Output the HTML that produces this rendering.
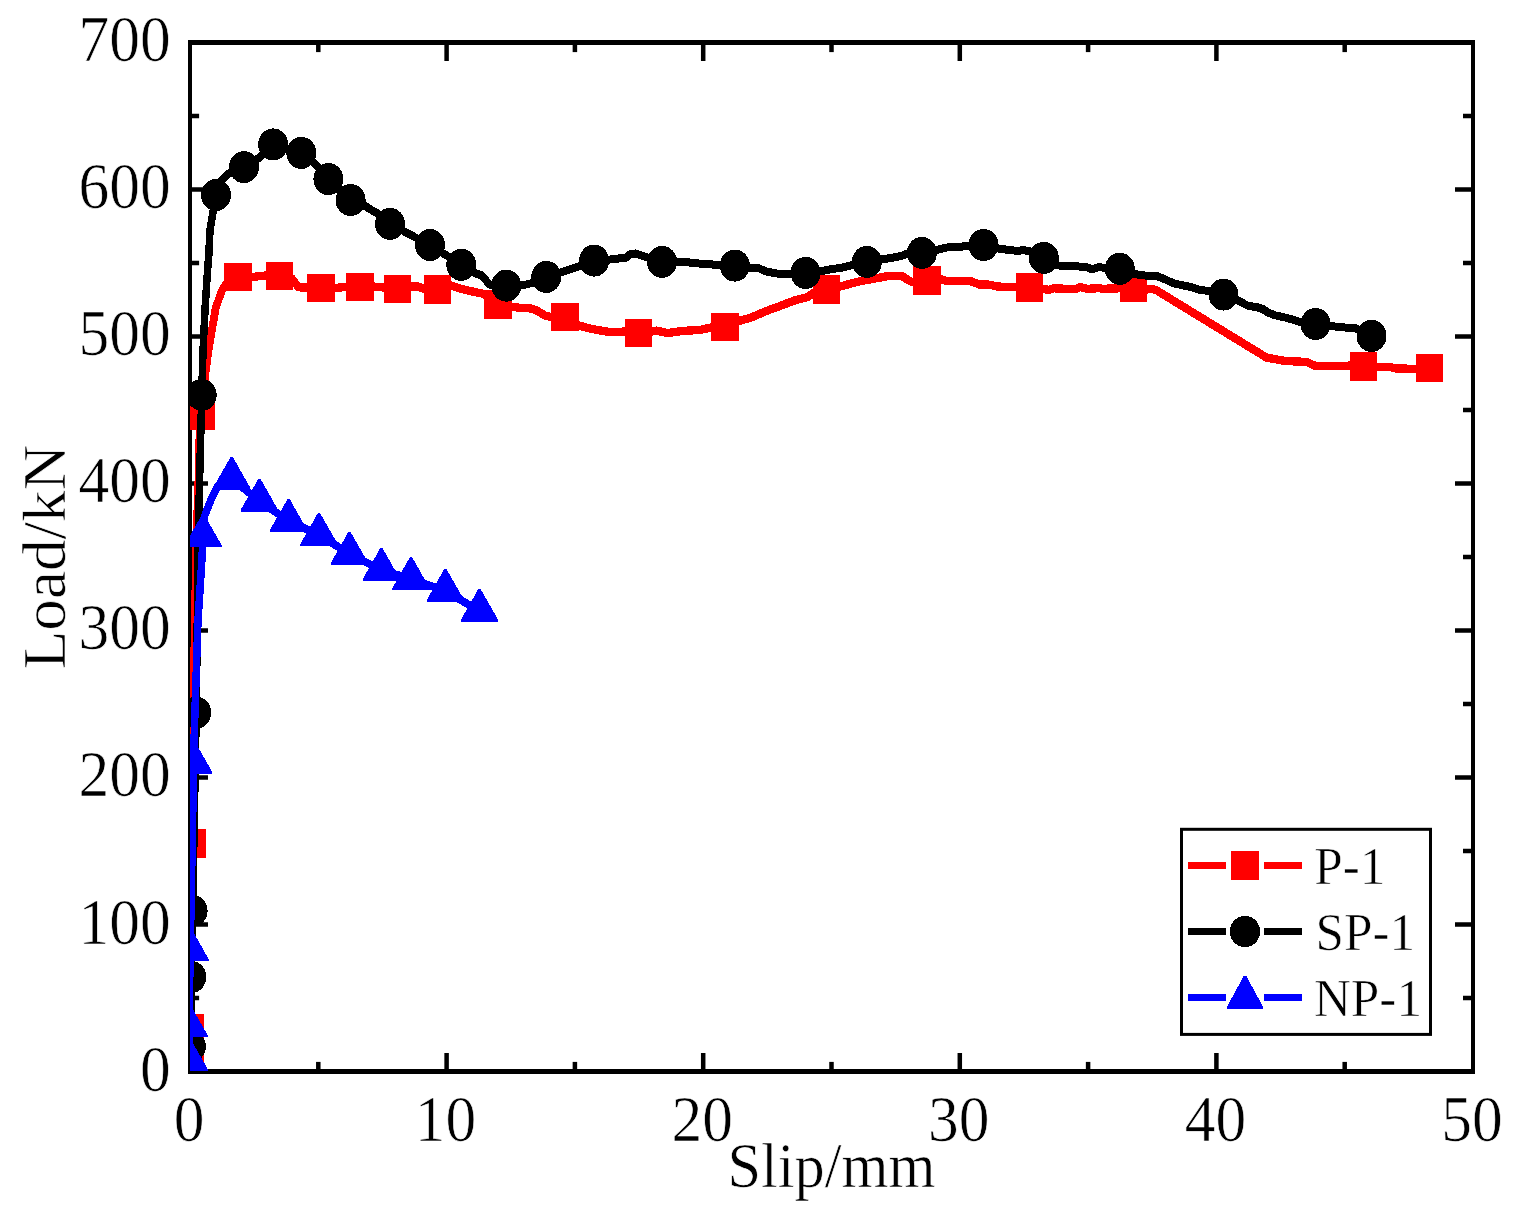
<!DOCTYPE html>
<html lang="en"><head><meta charset="utf-8"><title>Load-Slip curves</title>
<style>
html,body{margin:0;padding:0;background:#fff;}
body{width:1519px;height:1217px;overflow:hidden;}
svg{display:block;}
text{font-family:"Liberation Serif","DejaVu Serif",serif;fill:#000;stroke:#fff;stroke-width:0.6px;paint-order:fill stroke;}
.tk{font-size:61.5px;}
.lb{font-size:60.4px;}
.lg{font-size:51.2px;}
</style></head><body>
<svg width="1519" height="1217" viewBox="0 0 1519 1217" role="img" aria-label="Load-slip curves for specimens P-1, SP-1 and NP-1">
<defs><clipPath id="plot"><rect x="190" y="42.5" width="1283" height="1029.5"/></clipPath></defs>
<rect x="0" y="0" width="1519" height="1217" fill="#fff"/>
<g fill="#000">
<rect x="188" y="40" width="4" height="1034"/>
<rect x="1471" y="40" width="4" height="1034"/>
<rect x="188" y="40" width="1287" height="5"/>
<rect x="188" y="1069" width="1287" height="5"/>
<rect x="316.05" y="1061.9" width="4.5" height="8.1"/>
<rect x="316.05" y="44" width="4.5" height="8.1"/>
<rect x="444.35" y="1053" width="4.5" height="17"/>
<rect x="444.35" y="44" width="4.5" height="17"/>
<rect x="572.65" y="1061.9" width="4.5" height="8.1"/>
<rect x="572.65" y="44" width="4.5" height="8.1"/>
<rect x="700.95" y="1053" width="4.5" height="17"/>
<rect x="700.95" y="44" width="4.5" height="17"/>
<rect x="829.25" y="1061.9" width="4.5" height="8.1"/>
<rect x="829.25" y="44" width="4.5" height="8.1"/>
<rect x="957.55" y="1053" width="4.5" height="17"/>
<rect x="957.55" y="44" width="4.5" height="17"/>
<rect x="1085.85" y="1061.9" width="4.5" height="8.1"/>
<rect x="1085.85" y="44" width="4.5" height="8.1"/>
<rect x="1214.15" y="1053" width="4.5" height="17"/>
<rect x="1214.15" y="44" width="4.5" height="17"/>
<rect x="1342.45" y="1061.9" width="4.5" height="8.1"/>
<rect x="1342.45" y="44" width="4.5" height="8.1"/>
<rect x="191" y="995.75" width="8.1" height="4.5"/>
<rect x="1463" y="995.75" width="9" height="4.5"/>
<rect x="191" y="922.25" width="17" height="4.5"/>
<rect x="1455" y="922.25" width="17" height="4.5"/>
<rect x="191" y="848.75" width="8.1" height="4.5"/>
<rect x="1463" y="848.75" width="9" height="4.5"/>
<rect x="191" y="775.25" width="17" height="4.5"/>
<rect x="1455" y="775.25" width="17" height="4.5"/>
<rect x="191" y="701.75" width="8.1" height="4.5"/>
<rect x="1463" y="701.75" width="9" height="4.5"/>
<rect x="191" y="628.25" width="17" height="4.5"/>
<rect x="1455" y="628.25" width="17" height="4.5"/>
<rect x="191" y="554.75" width="8.1" height="4.5"/>
<rect x="1463" y="554.75" width="9" height="4.5"/>
<rect x="191" y="481.25" width="17" height="4.5"/>
<rect x="1455" y="481.25" width="17" height="4.5"/>
<rect x="191" y="407.75" width="8.1" height="4.5"/>
<rect x="1463" y="407.75" width="9" height="4.5"/>
<rect x="191" y="334.25" width="17" height="4.5"/>
<rect x="1455" y="334.25" width="17" height="4.5"/>
<rect x="191" y="260.75" width="8.1" height="4.5"/>
<rect x="1463" y="260.75" width="9" height="4.5"/>
<rect x="191" y="187.25" width="17" height="4.5"/>
<rect x="1455" y="187.25" width="17" height="4.5"/>
<rect x="191" y="113.75" width="8.1" height="4.5"/>
<rect x="1463" y="113.75" width="9" height="4.5"/>
</g>
<g clip-path="url(#plot)" shape-rendering="crispEdges"><g transform="scale(1,1.0667)">
<g fill="#ff0000" stroke="none">
<polyline fill="none" stroke="#ff0000" stroke-width="7.8" stroke-linejoin="round" points="190,1004.03 190,990.91 190.5,963.72 192.1,790.66 194.5,599.98 196.3,508.11 198.8,440.61 199.5,407.8 201,389.52 205.6,348.74 208.4,329.05 212,308.99 215.7,288.74 221.7,272.8 228,263.43 237.9,259.68 252,259.68 266,258.27 279.4,258.74 288,259.02 292,261.09 298.5,269.34 306.8,269.62 320.8,269.8 335,269.99 346,269.05 359.9,269.05 374,268.68 384,269.52 397.4,270.84 411,268.59 418,268.59 424,270.93 437.4,271.3 450.9,267.74 461,270.74 473,273.37 484,275.62 498,285.55 511.9,287.71 520,288.55 531.3,289.21 537.5,291.46 545,295.87 551,297.08 565.1,297.18 579,305.24 591.3,308.24 605,310.58 612.5,311.52 625,310.77 638.4,311.99 651.9,310.77 656.3,309.93 668.1,312.27 675,311.15 687.5,309.93 700,309.37 711,307.02 724.9,306.46 739,300.83 750.6,297.93 766.3,291.55 780,286.87 795,281.52 807.5,278.52 813.1,274.77 826.6,271.3 840,268.59 849.4,266.24 861.3,263.43 873.8,261.37 888.1,258.74 901.9,258.74 908.1,262.49 912.9,264.65 927.1,263.05 941,261.84 946.3,263.24 957.5,263.52 970,263.34 979.4,266.8 987.5,266.62 997.5,268.59 1016,269.34 1029.4,269.43 1042.9,270.74 1048.8,271.87 1053.8,270.27 1066.3,270.74 1076.3,270.93 1080,269.05 1087.5,270.74 1099.9,270.09 1102.5,270.74 1120,270.27 1133.4,269.71 1146.9,271.3 1152.5,271.02 1156,271.87 1266.9,335.43 1275,336.65 1285,338.43 1306.3,339.27 1316.3,343.4 1328.8,343.4 1350,342.74 1363.4,343.49 1376.9,343.96 1390,343.96 1396.3,345.46 1415.9,345.74 1429.4,344.9"/>
<rect x="176.2" y="977.64" width="27.6" height="26.53"/>
<rect x="176.7" y="950.45" width="27.6" height="26.53"/>
<rect x="178.3" y="777.4" width="27.6" height="26.53"/>
<rect x="187.2" y="376.25" width="27.6" height="26.53"/>
<rect x="224.1" y="246.41" width="27.6" height="26.53"/>
<rect x="265.6" y="245.48" width="27.6" height="26.53"/>
<rect x="307" y="256.54" width="27.6" height="26.53"/>
<rect x="346.1" y="255.79" width="27.6" height="26.53"/>
<rect x="383.6" y="257.57" width="27.6" height="26.53"/>
<rect x="423.6" y="258.04" width="27.6" height="26.53"/>
<rect x="484.2" y="272.29" width="27.6" height="26.53"/>
<rect x="551.3" y="283.91" width="27.6" height="26.53"/>
<rect x="624.6" y="298.73" width="27.6" height="26.53"/>
<rect x="711.1" y="293.19" width="27.6" height="26.53"/>
<rect x="812.8" y="258.04" width="27.6" height="26.53"/>
<rect x="913.3" y="249.79" width="27.6" height="26.53"/>
<rect x="1015.6" y="256.16" width="27.6" height="26.53"/>
<rect x="1119.6" y="256.45" width="27.6" height="26.53"/>
<rect x="1349.6" y="330.22" width="27.6" height="26.53"/>
<rect x="1415.6" y="331.63" width="27.6" height="26.53"/>
</g>
<g fill="#000" stroke="none">
<polyline fill="none" stroke="#000" stroke-width="7.5" stroke-linejoin="round" points="190,1004.03 190.8,981.06 191.3,915.91 192.6,853.85 196.2,668.04 198.3,503.89 200.1,429.83 201,399.08 201.7,370.21 203,329.05 205.1,288.93 206.9,262.49 207.8,250.77 208.8,239.06 209.4,227.34 210,215.62 212.1,203.9 216,182.81 220.5,170.62 226,164.53 233,160.31 244,156.65 252,152.34 259.5,147.65 266,141.09 273.1,135.37 301.3,143.34 309,149.06 316.5,154.68 328.4,167.9 350.6,187.49 362,191.06 370.6,196.49 378,200.24 384,204.65 390,209.81 410,219.93 430,229.68 461.3,248.24 476,256.4 482,258.27 489,266.24 495,268.59 506.3,267.74 526,266.71 534,264.84 546.3,259.59 560.6,255.46 575,251.05 594.1,244.3 611.3,243.18 616.3,242.62 626.3,241.49 630.6,238.12 635.6,237.56 643.8,240.27 648.8,241.96 662.1,245.52 676.9,245.52 687.5,245.9 700,247.12 718.1,248.34 734.8,248.99 749.4,251.15 758.1,251.15 766.3,254.52 777.5,256.49 791.3,256.68 805.6,255.84 820,254.34 830,252.55 842.5,250.77 852.5,248.43 866.9,245.52 881.5,243.18 892.5,241.68 902.5,239.62 907.5,237.65 921.9,237.09 936.5,234.37 945,232.31 953.8,231.18 961.9,231.18 968.8,230.15 983.5,229.68 998.1,232.96 1009.4,234.37 1018.1,235.31 1023.1,234.37 1029.4,235.59 1043.8,241.77 1057.5,248.8 1070,249.74 1078.1,249.74 1087.5,250.77 1091.9,252.55 1098.8,250.21 1105,251.34 1119.8,251.99 1133.8,256.68 1142.5,258.18 1156.9,258.74 1163.8,261.37 1173.8,265.68 1191.3,269.15 1198.8,271.49 1208.1,272.8 1223.5,276.18 1237.5,281.24 1247.5,286.49 1257.7,288.18 1262.9,289.77 1267.9,292.87 1275,295.58 1286.9,298.02 1293.8,299.99 1301.3,302.33 1315.6,303.74 1330.6,305.52 1341.3,306.83 1355,307.58 1371.5,314.9"/>
<ellipse cx="190.8" cy="981.06" rx="15" ry="15"/>
<ellipse cx="191.3" cy="915.91" rx="15" ry="15"/>
<ellipse cx="192.6" cy="853.85" rx="15" ry="15"/>
<ellipse cx="196.2" cy="668.04" rx="15" ry="15"/>
<ellipse cx="201.7" cy="370.21" rx="15" ry="15"/>
<ellipse cx="216" cy="182.81" rx="15" ry="15"/>
<ellipse cx="244" cy="156.65" rx="15" ry="15"/>
<ellipse cx="273.1" cy="135.37" rx="15" ry="15"/>
<ellipse cx="301.3" cy="143.34" rx="15" ry="15"/>
<ellipse cx="328.4" cy="167.9" rx="15" ry="15"/>
<ellipse cx="350.6" cy="187.49" rx="15" ry="15"/>
<ellipse cx="390" cy="209.81" rx="15" ry="15"/>
<ellipse cx="430" cy="229.68" rx="15" ry="15"/>
<ellipse cx="461.3" cy="248.24" rx="15" ry="15"/>
<ellipse cx="506.3" cy="267.74" rx="15" ry="15"/>
<ellipse cx="546.3" cy="259.59" rx="15" ry="15"/>
<ellipse cx="594.1" cy="244.3" rx="15" ry="15"/>
<ellipse cx="662.1" cy="245.52" rx="15" ry="15"/>
<ellipse cx="734.8" cy="248.99" rx="15" ry="15"/>
<ellipse cx="805.6" cy="255.84" rx="15" ry="15"/>
<ellipse cx="866.9" cy="245.52" rx="15" ry="15"/>
<ellipse cx="921.9" cy="237.09" rx="15" ry="15"/>
<ellipse cx="983.5" cy="229.68" rx="15" ry="15"/>
<ellipse cx="1043.8" cy="241.77" rx="15" ry="15"/>
<ellipse cx="1119.8" cy="251.99" rx="15" ry="15"/>
<ellipse cx="1223.5" cy="276.18" rx="15" ry="15"/>
<ellipse cx="1315.6" cy="303.74" rx="15" ry="15"/>
<ellipse cx="1371.5" cy="314.9" rx="15" ry="15"/>
</g>
<g fill="#0000ff" stroke="none">
<polyline fill="none" stroke="#0000ff" stroke-width="7.5" stroke-linejoin="round" points="190,1004.03 189,993.72 189,962.03 190.2,890.97 193,749.98 193.4,715.01 195,665.6 198,581.23 201.5,531.55 203.1,502.86 204.7,483.55 211.6,466.86 217.5,455.8 231.7,448.95 259.4,469.49 288.6,488.42 319,501.55 349.5,519.27 381.4,534.45 411,542.89 445.4,554.05 479.5,572.7"/>
<polygon points="187.8,973.28 190.2,973.28 207.65,1002.16 207.65,1004.03 170.35,1004.03 170.35,1002.16"/>
<polygon points="187.8,941.6 190.2,941.6 207.65,970.47 207.65,972.34 170.35,972.34 170.35,970.47"/>
<polygon points="189,870.54 191.4,870.54 208.85,899.41 208.85,901.28 171.55,901.28 171.55,899.41"/>
<polygon points="192.2,694.57 194.6,694.57 212.05,723.45 212.05,725.32 174.75,725.32 174.75,723.45"/>
<polygon points="201.9,482.42 204.3,482.42 221.75,511.3 221.75,513.17 184.45,513.17 184.45,511.3"/>
<polygon points="230.5,428.52 232.9,428.52 250.35,457.39 250.35,459.27 213.05,459.27 213.05,457.39"/>
<polygon points="258.2,449.05 260.6,449.05 278.05,477.92 278.05,479.8 240.75,479.8 240.75,477.92"/>
<polygon points="287.4,467.99 289.8,467.99 307.25,496.86 307.25,498.73 269.95,498.73 269.95,496.86"/>
<polygon points="317.8,481.11 320.2,481.11 337.65,509.98 337.65,511.86 300.35,511.86 300.35,509.98"/>
<polygon points="348.3,498.83 350.7,498.83 368.15,527.7 368.15,529.58 330.85,529.58 330.85,527.7"/>
<polygon points="380.2,514.02 382.6,514.02 400.05,542.89 400.05,544.76 362.75,544.76 362.75,542.89"/>
<polygon points="409.8,522.45 412.2,522.45 429.65,551.33 429.65,553.2 392.35,553.2 392.35,551.33"/>
<polygon points="444.2,533.61 446.6,533.61 464.05,562.48 464.05,564.36 426.75,564.36 426.75,562.48"/>
<polygon points="478.3,552.26 480.7,552.26 498.15,581.14 498.15,583.01 460.85,583.01 460.85,581.14"/>
</g>
</g></g>
<g>
<rect x="1181.5" y="829.3" width="249" height="205.1" fill="#fff" stroke="#000" stroke-width="3"/>
<g fill="#ff0000" shape-rendering="crispEdges">
<rect x="1187.8" y="861.9" width="38.2" height="7"/>
<rect x="1263.9" y="861.9" width="38.2" height="7"/>
<rect x="1231" y="850.9" width="27.9" height="29"/>
</g>
<text class="lg" transform="translate(1314.3,884) scale(1,1.047)">P-1</text>
<g fill="#000000" shape-rendering="crispEdges">
<rect x="1187.8" y="928" width="38.2" height="7"/>
<rect x="1263.9" y="928" width="38.2" height="7"/>
<ellipse cx="1245" cy="931.5" rx="15.15" ry="15.6"/>
</g>
<text class="lg" transform="translate(1315.6,949.9) scale(1,1.047)">SP-1</text>
<g fill="#0000ff" shape-rendering="crispEdges">
<rect x="1187.8" y="993.9" width="38.2" height="7"/>
<rect x="1263.9" y="993.9" width="38.2" height="7"/>
<polygon points="1243.8,975.8 1246.2,975.8 1263.2,1007.1 1263.2,1009.1 1226.8,1009.1 1226.8,1007.1"/>
</g>
<text class="lg" transform="translate(1313.9,1016.1) scale(1,1.047)">NP-1</text>
</g>
<text class="tk" text-anchor="end" transform="translate(170.8,1091) scale(1,1.071)">0</text>
<text class="tk" text-anchor="end" transform="translate(170.8,944) scale(1,1.071)">100</text>
<text class="tk" text-anchor="end" transform="translate(170.8,796.1) scale(1,1.071)">200</text>
<text class="tk" text-anchor="end" transform="translate(170.8,649.1) scale(1,1.071)">300</text>
<text class="tk" text-anchor="end" transform="translate(170.8,502.1) scale(1,1.071)">400</text>
<text class="tk" text-anchor="end" transform="translate(170.8,355.1) scale(1,1.071)">500</text>
<text class="tk" text-anchor="end" transform="translate(170.8,208.1) scale(1,1.071)">600</text>
<text class="tk" text-anchor="end" transform="translate(170.8,61.1) scale(1,1.071)">700</text>
<text class="tk" text-anchor="middle" transform="translate(189,1140.6) scale(1,1.071)">0</text>
<text class="tk" text-anchor="middle" transform="translate(445.6,1140.6) scale(1,1.071)">10</text>
<text class="tk" text-anchor="middle" transform="translate(702.2,1140.6) scale(1,1.071)">20</text>
<text class="tk" text-anchor="middle" transform="translate(958.8,1140.6) scale(1,1.071)">30</text>
<text class="tk" text-anchor="middle" transform="translate(1215.4,1140.6) scale(1,1.071)">40</text>
<text class="tk" text-anchor="middle" transform="translate(1472,1140.6) scale(1,1.071)">50</text>
<text class="lb" text-anchor="middle" transform="translate(831.4,1187.3) scale(1,1.05)">Slip/mm</text>
<text class="lb" text-anchor="middle" transform="translate(65.3,557) rotate(-90) scale(1.046,1.0)">Load/kN</text>
</svg>
</body></html>
